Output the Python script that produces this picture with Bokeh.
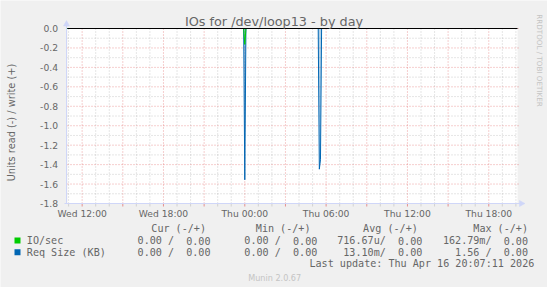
from math import pi
import numpy as np
import pandas as pd
from bokeh.plotting import figure
from bokeh.models import Label, Range1d, ColumnDataSource
from bokeh.core.properties import value
from bokeh.embed import file_html
from bokeh.resources import INLINE

# ---------------- data ----------------
time_start = "2026-04-15 10:55:11"
time_end = "2026-04-16 20:07:11"

sample_times = ["2026-04-15 10:55", "2026-04-15 23:55", "2026-04-16 00:00",
                "2026-04-16 00:05", "2026-04-16 05:25", "2026-04-16 05:30",
                "2026-04-16 05:35", "2026-04-16 05:40", "2026-04-16 20:05"]
io_read = [0.0, 0.0, 0.163, 0.0, 0.0, 0.0, 0.0, 0.0, 0.0]
io_write = [0.0, 0.0, 0.0, 0.0, 0.0, 0.0, 0.0, 0.0, 0.0]
req_read = [0.0, 0.0, 1.556, 0.0, 0.0, 1.447, 1.35, 0.0, 0.0]
req_write = [0.0, 0.0, 0.0, 0.0, 0.0, 0.0, 0.0, 0.0, 0.0]

x_tick_times = ["2026-04-15 12:00", "2026-04-15 15:00", "2026-04-15 18:00",
                "2026-04-15 21:00", "2026-04-16 00:00", "2026-04-16 03:00",
                "2026-04-16 06:00", "2026-04-16 09:00", "2026-04-16 12:00",
                "2026-04-16 15:00", "2026-04-16 18:00"]
x_tick_labels = ["Wed 12:00", "", "Wed 18:00", "", "Thu 00:00", "",
                 "Thu 06:00", "", "Thu 12:00", "", "Thu 18:00"]
y_ticks = [0.0, -0.2, -0.4, -0.6, -0.8, -1.0, -1.2, -1.4, -1.6, -1.8]
y_tick_labels = ["0.0", "-0.2", "-0.4", "-0.6", "-0.8", "-1.0", "-1.2",
                 "-1.4", "-1.6", "-1.8"]
y_min, y_max = -1.8, 0.0

title = "IOs for /dev/loop13 - by day"
y_label = "Units read (-) / write (+)"
legend_names = ["IO/sec", "Req Size (KB)"]
legend_colors = ["#00CC00", "#0066B3"]
col_headers = ["Cur (-/+)", "Min (-/+)", "Avg (-/+)", "Max (-/+)"]
cur_vals = ["0.00 /  0.00", "0.00 /  0.00"]
min_vals = ["0.00 /  0.00", "0.00 /  0.00"]
avg_vals = ["716.67u/  0.00", "13.10m/  0.00"]
max_vals = ["162.79m/  0.00", "1.56 /  0.00"]
last_update = "Last update: Thu Apr 16 20:07:11 2026"
version = "Munin 2.0.67"
signature = "RRDTOOL / TOBI OETIKER"

# ---------------- layout constants (canvas px) ----------------
W, H = 547, 287
PL, PR = 67.0, 517.0        # plot area left / right
PT, PB = 28.0, 203.0        # y of value 0.0 / value -1.8
FONT = "#666666"
AXIS = "#CFD6F8"
MGRID = "#DE5050"
GRID = "#8F8F8F"
MONO = "DejaVu Sans Mono"


def ms(t):
    return pd.Timestamp(t).value / 1e6


t0, t1 = ms(time_start), ms(time_end)
kx = (t1 - t0) / (PR - PL)            # ms per px
ky = (y_max - y_min) / (PB - PT)      # value per px

p = figure(width=W, height=H, output_backend="svg", toolbar_location=None,
           x_range=Range1d(0, W), y_range=Range1d(H, 0),
           x_axis_location=None, y_axis_location=None, min_border=0)
p.extra_x_ranges = {"t": Range1d(t0 - PL * kx, t0 + (W - PL) * kx)}
p.extra_y_ranges = {"v": Range1d(y_max - (H - PT) * ky, y_max + PT * ky)}
p.background_fill_color = "#F0F0F0"
p.border_fill_color = "#F0F0F0"
p.outline_line_color = None
for g in p.grid:
    g.visible = False

TV = dict(x_range_name="t", y_range_name="v")

# plot canvas
p.quad(left=[t0], right=[t1], bottom=[y_min], top=[y_max],
       fill_color="#FFFFFF", line_color=None, **TV)

# grid
x_major = [ms(t) for t in x_tick_times]
x_minor = [ms(t) for t in pd.date_range("2026-04-15 11:00", "2026-04-16 20:00", freq="1h")
           if ms(t) not in x_major]
y_minor = list(np.round(np.arange(-1.7, 0.0, 0.2), 2))
tick_len = 3 * ky

p.segment(x0=x_minor, x1=x_minor, y0=[y_min] * len(x_minor), y1=[y_max] * len(x_minor),
          line_color=GRID, line_alpha=0.45, line_dash="1 2", line_width=1, **TV)
p.segment(x0=[t0] * len(y_minor), x1=[t1] * len(y_minor), y0=y_minor, y1=y_minor,
          line_color=GRID, line_alpha=0.45, line_dash="1 2", line_width=1, **TV)
p.segment(x0=x_major, x1=x_major, y0=[y_min] * len(x_major), y1=[y_max] * len(x_major),
          line_color=MGRID, line_alpha=0.55, line_dash="1 2", line_width=1, **TV)
p.segment(x0=[t0] * len(y_ticks), x1=[t1 + 2 * kx] * len(y_ticks), y0=y_ticks, y1=y_ticks,
          line_color=MGRID, line_alpha=0.55, line_dash="1 2", line_width=1, **TV)
# tick marks below the time axis
p.segment(x0=x_major, x1=x_major, y0=[y_min] * len(x_major),
          y1=[y_min - tick_len] * len(x_major),
          line_color=MGRID, line_alpha=0.6, line_width=1, **TV)
p.segment(x0=x_minor, x1=x_minor, y0=[y_min] * len(x_minor),
          y1=[y_min - tick_len] * len(x_minor),
          line_color=GRID, line_alpha=0.3, line_width=1, **TV)

# data
src = ColumnDataSource(dict(
    t=[ms(t) for t in sample_times],
    io_neg=[-v for v in io_read], io_pos=io_write,
    rq_neg=[-v for v in req_read], rq_pos=req_write))
p.line(x="t", y="io_pos", source=src, line_color="#00CC00", line_width=1, **TV)
p.line(x="t", y="rq_pos", source=src, line_color="#0066B3", line_width=1, **TV)
p.varea(x="t", y1="rq_neg", y2="rq_pos", source=src, fill_color="#0066B3",
        fill_alpha=0.3, **TV)
p.line(x="t", y="rq_neg", source=src, line_color="#0066B3", line_width=1, **TV)
p.line(x="t", y="io_neg", source=src, line_color="#00CC00", line_width=1, **TV)
# zero rule
p.segment(x0=[t0], x1=[t1], y0=[0.0], y1=[0.0], line_color="#000000", line_width=1, **TV)

# axes (lines + arrows), canvas coordinates
p.segment(x0=[PL - 1, PL - 3], x1=[PL - 1, PR + 3], y0=[PB, PB], y1=[23, PB],
          line_color=AXIS, line_width=1)
p.patch(x=[PL - 4, PL + 2, PL - 1], y=[25.5, 25.5, 20.0], fill_color=AXIS,
        line_color=AXIS, line_width=0.5)
p.patch(x=[PR + 2, PR + 2, PR + 7.5], y=[PB - 3, PB + 3, PB], fill_color=AXIS,
        line_color=AXIS, line_width=0.5)

# tick labels
p.text(x=x_major, y=[y_min] * len(x_major), text=x_tick_labels, y_offset=9.5,
       text_align="center", text_baseline="middle", text_font=value("DejaVu Sans"),
       text_font_size="9.2px", text_color=FONT, **TV)
p.text(x=[t0] * len(y_ticks), y=y_ticks, text=y_tick_labels, x_offset=-9.5,
       text_align="right", text_baseline="middle", text_font=value("DejaVu Sans"),
       text_font_size="9.2px", text_color=FONT, **TV)


def lab(text, x, y, size, align="left", font="DejaVu Sans", color=FONT, angle=0.0):
    p.add_layout(Label(x=x, y=y, text=text, text_font=font, text_font_size=size,
                       text_color=color, text_align=align, text_baseline="middle",
                       angle=angle))


lab(title, 273.5, 20.5, "12.8px", align="center")
lab(y_label, 10.5, 122, "9.8px", align="center", angle=pi / 2)
lab(signature, 538.5, 60, "7.2px", align="center", color="#C4C4C4", angle=-pi / 2)
lab(version, 274.2, 277.3, "8.1px", align="center", color="#C4C4C4")

MS = "10.1px"
CW = 0.602 * 10.1            # monospace character width
header_right = [205.5, 310.0, 417.3, 527.5]
val_right = [210.0, 316.8, 421.8, 527.5]
row_y = [240.0, 251.8]
for txt, xr in zip(col_headers, header_right):
    lab(txt, xr, 227.5, MS, align="right", font=MONO)
p.quad(left=[14, 14], right=[20, 20], top=[y - 3 for y in row_y],
       bottom=[y + 3 for y in row_y], fill_color=legend_colors, line_color=None)
for i, name in enumerate(legend_names):
    yy = row_y[i]
    lab(name, 26.3, yy, MS, font=MONO)
    for vals, xr in zip((cur_vals, min_vals, avg_vals, max_vals), val_right):
        # split "716.67u/  0.00" into "716.67u/" and "0.00" (SVG collapses double spaces)
        left, right = vals[i].split("/")
        lab(left + "/", xr - len(right) * CW, yy, MS, align="right", font=MONO)
        lab(right.strip(), xr, yy, MS, align="right", font=MONO)
lab(last_update, 533.8, 263.2, MS, align="right", font=MONO)

open("out.html", "w").write(file_html(p, INLINE))
